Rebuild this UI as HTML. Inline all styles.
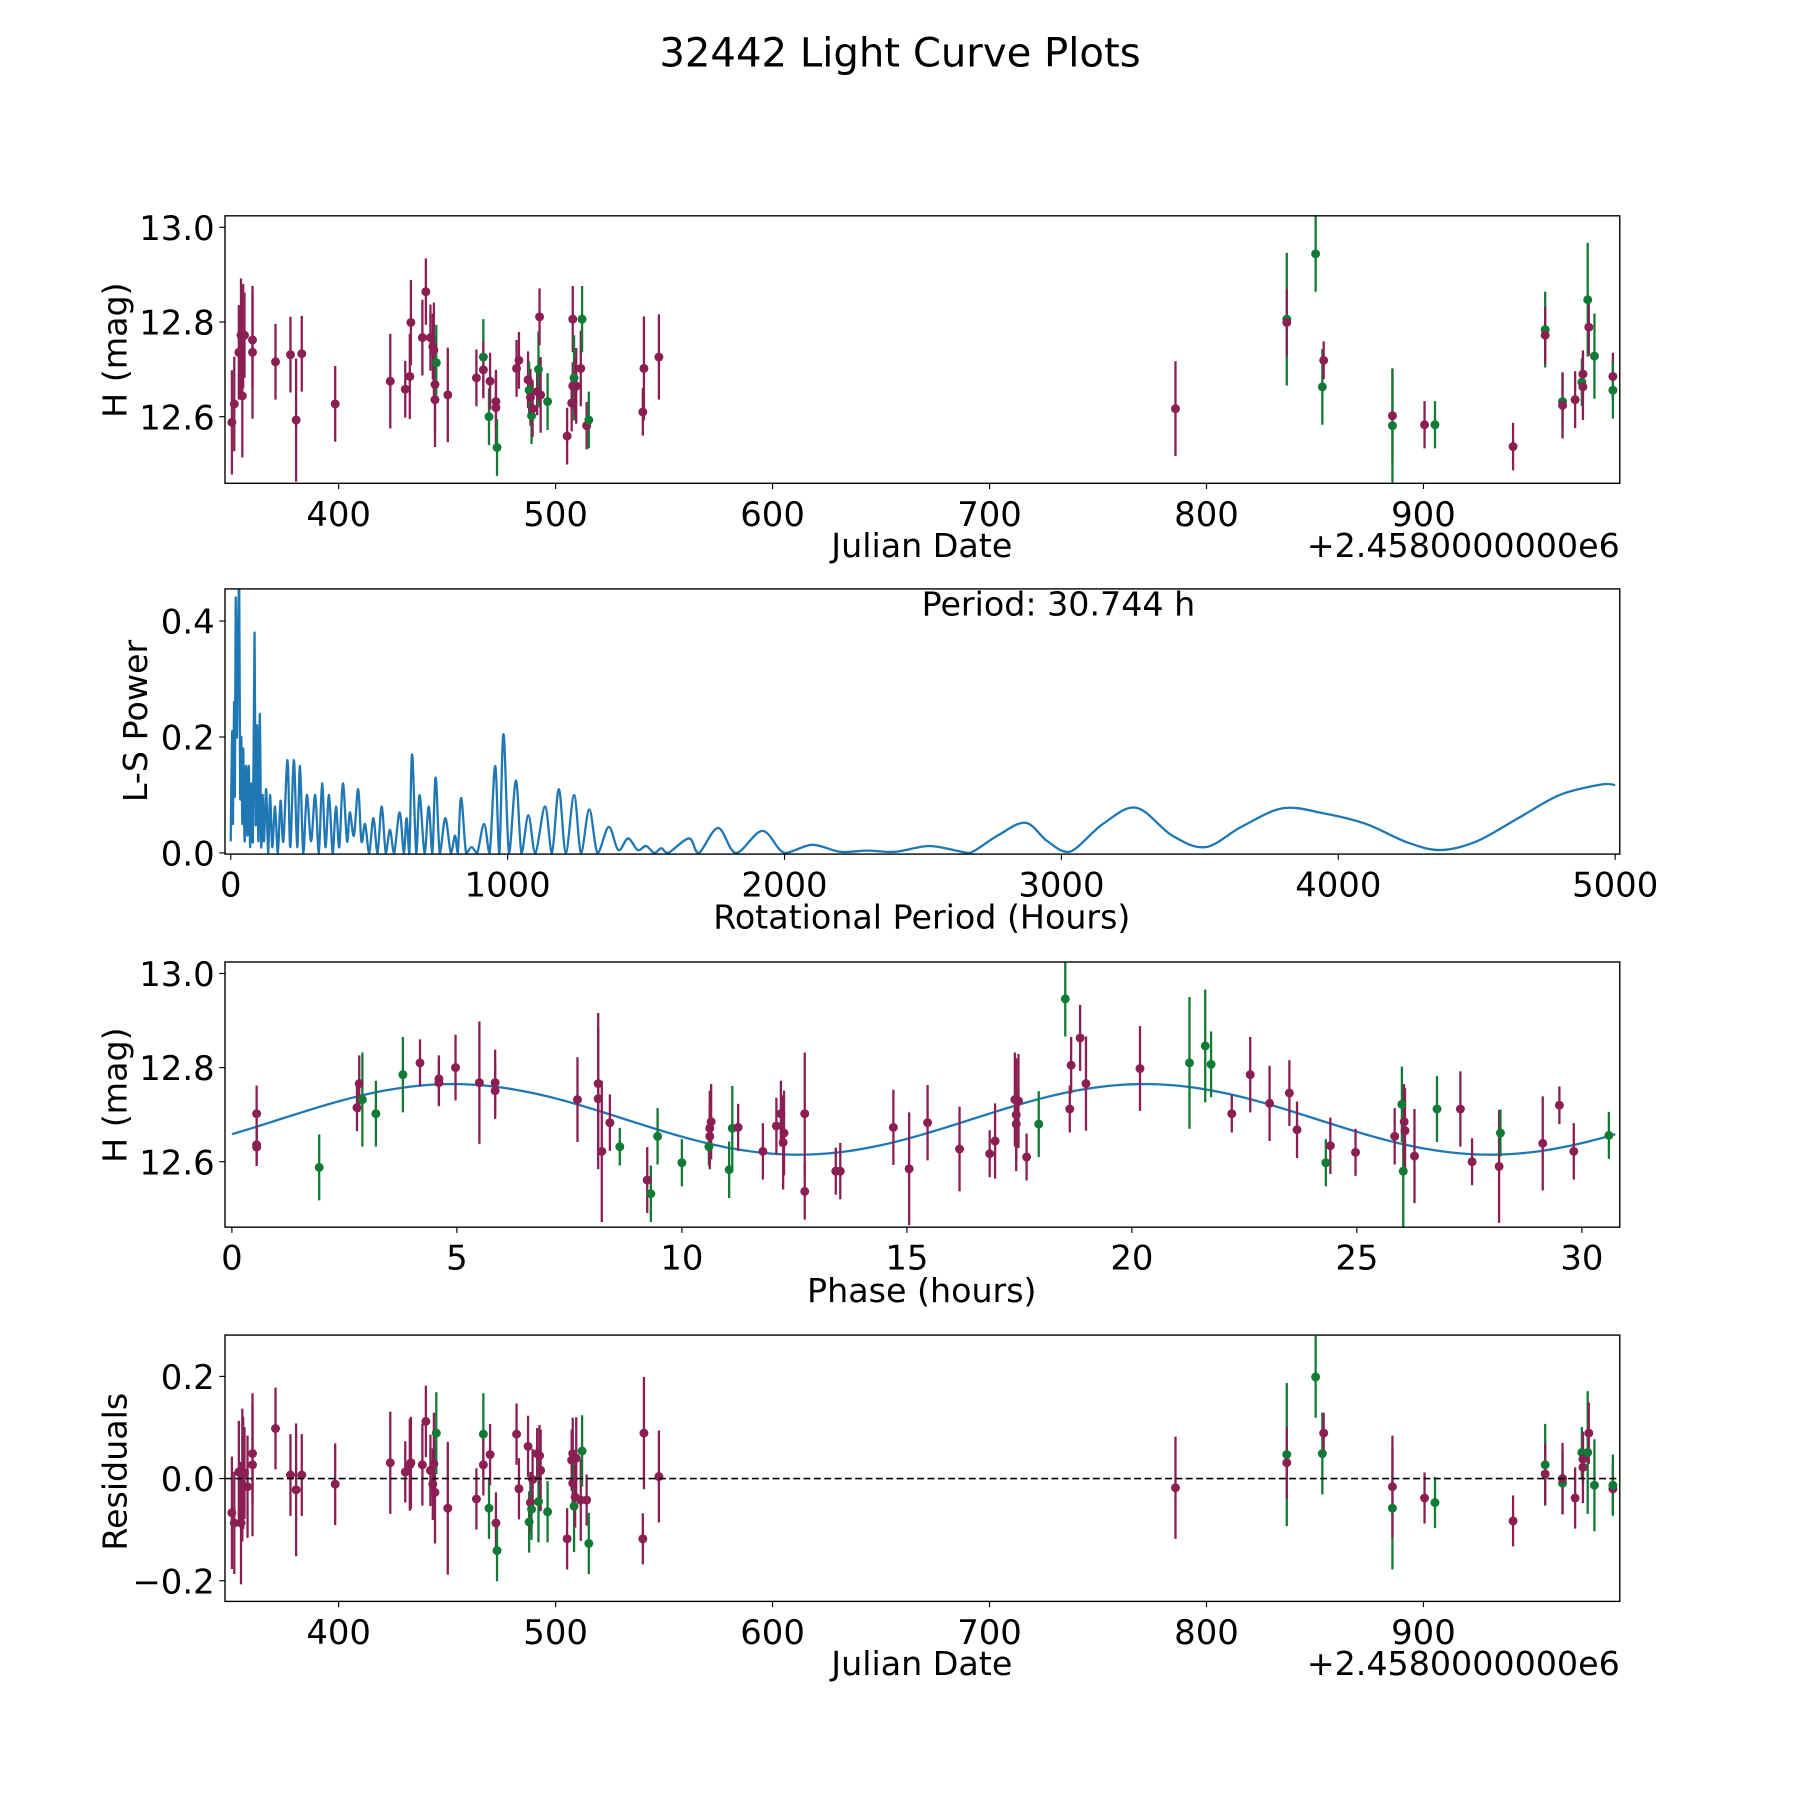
<!DOCTYPE html>
<html><head><meta charset="utf-8"><title>32442 Light Curve Plots</title>
<style>html,body{margin:0;padding:0;background:#fff}svg{display:block}text{font-family:"DejaVu Sans","Liberation Sans",sans-serif;fill:#000}</style>
</head><body>
<svg id="fig" xmlns="http://www.w3.org/2000/svg" width="1800" height="1800" viewBox="0 0 1568 1568">
<rect x="0" y="0" width="1568" height="1568" fill="#fff"/>
<text x="784" y="58" font-size="35" text-anchor="middle">32442 Light Curve Plots</text>
<g id="p1"></g>
<g id="p2"></g>
<g id="p3"></g>
<g id="p4"></g>
</svg>
<script>
// ---- Panel 1: light curve data ----
const lcJd = [350.8,351.9,354,355,355.6,356,356.6,360.3,360.3,370.9,377.8,380.4,383,398.4,423.8,430.7,432.8,433.3,438.6,440.2,442.3,443.4,443.9,444.4,444.4,445,450.3,463.5,466.7,466.7,469.3,469.8,472.5,472.5,473,482,483.1,487.3,487.8,488.4,488.9,489.4,491.5,492.1,492.6,493.1,496.3,505.3,507.4,507.9,507.9,508.5,509,509.5,511.6,512.2,514.3,515.3,540.2,540.7,547.6,785.7,837,837,850.3,853.4,854,885.7,885.7,900.5,905.3,941.3,956.1,956.1,964.1,964.1,969.9,973,973.5,973.5,975.7,976.2,978.8,987.3,987.3];
const lcMag = [12.588,12.627,12.736,12.772,12.644,12.77,12.772,12.762,12.736,12.716,12.731,12.593,12.733,12.627,12.675,12.658,12.685,12.799,12.767,12.864,12.767,12.748,12.741,12.668,12.636,12.714,12.646,12.682,12.726,12.699,12.6,12.675,12.632,12.619,12.535,12.702,12.719,12.678,12.656,12.641,12.602,12.617,12.653,12.7,12.811,12.646,12.632,12.559,12.629,12.665,12.806,12.682,12.663,12.665,12.702,12.806,12.581,12.593,12.61,12.702,12.726,12.617,12.806,12.799,12.944,12.663,12.719,12.602,12.581,12.583,12.583,12.537,12.784,12.772,12.632,12.624,12.636,12.673,12.69,12.663,12.847,12.789,12.728,12.685,12.656];
const lcErr = [0.11,0.1,0.1,0.12,0.13,0.11,0.09,0.1,0.14,0.08,0.08,0.13,0.08,0.08,0.1,0.06,0.09,0.09,0.08,0.07,0.07,0.07,0.1,0.1,0.1,0.08,0.1,0.06,0.08,0.06,0.06,0.06,0.06,0.08,0.06,0.06,0.06,0.06,0.06,0.06,0.06,0.06,0.05,0.08,0.06,0.08,0.06,0.06,0.06,0.05,0.07,0.09,0.06,0.08,0.08,0.07,0.05,0.06,0.05,0.11,0.09,0.1,0.14,0.07,0.08,0.08,0.04,0.1,0.12,0.05,0.05,0.05,0.08,0.06,0.06,0.07,0.06,0.05,0.05,0.07,0.12,0.06,0.09,0.05,0.06];
const lcBand = [0,0,0,0,0,0,0,0,0,0,0,0,0,0,0,0,0,0,0,0,0,0,0,0,0,1,0,0,1,0,1,0,0,0,1,0,0,0,1,0,1,0,0,1,0,0,1,0,0,0,0,1,0,0,0,1,0,1,0,0,0,0,1,0,1,1,0,0,1,0,1,0,1,0,1,0,0,1,0,0,1,0,1,0,1];
const jdTicks = [400,500,600,700,800,900];

// ---- Panel 2: periodogram ----
const lsPeriod = [0,5,8,12,15,18,22,26,30.7,34,38,42,45,50,55,60,65,70,75,80,86,90,95,100,105,110,115,120,128,135,142,150,160,170,180,190,205,215,228,240,250,262,275,290,305,318,330,342,355,368,380,392,405,420,430,445,460,472,485,500,515,530,545,560,575,590,610,625,635,645,655,670,682,700,715,728,740,755,775,795,810,820,832,850,870,890,915,935,955,970,985,1005,1030,1050,1075,1100,1135,1160,1185,1210,1240,1265,1295,1325,1365,1400,1435,1470,1500,1530,1555,1580,1655,1690,1760,1825,1920,2000,2100,2200,2300,2400,2520,2620,2670,2770,2870,2950,3030,3150,3270,3400,3520,3650,3800,3950,4100,4250,4370,4500,4650,4800,4950,5000];
const lsPower = [0.02,0.21,0.05,0.26,0.1,0.44,0.2,0.36,0.46,0.1,0.2,0.05,0.18,0.02,0.15,0.03,0.15,0.01,0.12,0.02,0.38,0.05,0.22,0.02,0.24,0.01,0.1,0.02,0.11,0.0,0.1,0.01,0.08,0.0,0.09,0.02,0.16,0.01,0.16,0.01,0.15,0.0,0.1,0.02,0.1,0.0,0.12,0.01,0.1,0.0,0.08,0.01,0.12,0.02,0.07,0.03,0.11,0.02,0.05,0.0,0.06,0.0,0.08,0.0,0.04,0.0,0.07,0.0,0.06,0.0,0.17,0.0,0.1,0.0,0.08,0.0,0.13,0.0,0.06,0.0,0.03,0.0,0.095,0.0,0.01,0.0,0.05,0.0,0.15,0.0,0.205,0.0,0.125,0.0,0.065,0.0,0.08,0.0,0.11,0.0,0.1,0.0,0.075,0.0,0.045,0.005,0.025,0.005,0.012,0.0,0.008,0.0,0.025,0.0,0.043,0.0,0.038,0.0,0.014,0.002,0.004,0.002,0.012,0.004,0.0,0.03,0.052,0.02,0.002,0.05,0.078,0.03,0.01,0.045,0.077,0.068,0.05,0.018,0.005,0.02,0.06,0.1,0.118,0.117];
const periodTicks = [0,1000,2000,3000,4000,5000];
const powerTicks = [0.0,0.2,0.4];
const bestPeriodLabel = "Period: 30.744 h";

// ---- Panel 3: phase-folded ----
const phPhase = [0.55,0.55,0.55,1.94,2.78,2.83,2.9,3.2,3.8,4.18,4.6,4.6,4.97,5.5,5.85,5.85,7.68,8.14,8.14,8.22,8.4,8.62,9.23,9.31,9.46,10.0,10.6,10.62,10.62,10.65,11.05,11.12,11.25,11.8,12.1,12.2,12.25,12.27,12.73,12.73,13.42,13.52,14.7,15.05,15.46,16.17,16.84,16.96,17.4,17.48,17.43,17.43,17.66,17.93,18.52,18.62,18.65,18.85,18.98,20.18,21.28,21.63,21.76,22.22,22.63,23.06,23.5,23.67,24.31,24.41,24.97,25.84,26.0,26.03,26.05,26.07,26.28,26.78,27.3,27.56,28.16,28.19,29.13,29.5,29.82,30.6];
const phMag = [12.636,12.702,12.631,12.588,12.715,12.766,12.732,12.702,12.785,12.81,12.776,12.768,12.8,12.768,12.768,12.751,12.732,12.766,12.734,12.622,12.683,12.632,12.561,12.532,12.654,12.598,12.632,12.654,12.671,12.685,12.583,12.671,12.673,12.622,12.676,12.702,12.641,12.661,12.537,12.702,12.58,12.58,12.673,12.585,12.683,12.627,12.617,12.644,12.732,12.729,12.68,12.7,12.61,12.68,12.946,12.712,12.805,12.863,12.766,12.798,12.81,12.846,12.807,12.702,12.785,12.724,12.746,12.668,12.598,12.634,12.62,12.654,12.722,12.58,12.685,12.666,12.612,12.712,12.712,12.6,12.59,12.661,12.639,12.72,12.622,12.656];
const phErr = [0.04,0.06,0.04,0.07,0.05,0.06,0.1,0.07,0.08,0.05,0.05,0.05,0.07,0.13,0.07,0.06,0.09,0.15,0.15,0.15,0.06,0.04,0.07,0.06,0.06,0.05,0.04,0.07,0.08,0.08,0.06,0.09,0.05,0.06,0.06,0.07,0.1,0.09,0.06,0.13,0.05,0.06,0.08,0.12,0.08,0.09,0.05,0.08,0.1,0.1,0.08,0.12,0.05,0.07,0.08,0.05,0.06,0.07,0.1,0.09,0.14,0.12,0.07,0.04,0.08,0.08,0.07,0.06,0.05,0.06,0.05,0.06,0.08,0.13,0.08,0.09,0.1,0.07,0.08,0.05,0.12,0.05,0.1,0.04,0.06,0.05];
const phBand = [0,0,0,1,0,0,1,1,1,0,0,0,0,0,0,0,0,0,0,0,0,1,0,1,1,1,1,0,0,0,1,1,0,0,0,0,0,0,0,0,0,0,0,0,0,0,0,0,0,0,0,0,0,1,1,0,0,0,0,0,1,1,1,0,0,0,0,0,1,0,0,0,1,1,0,0,0,1,0,0,0,1,0,0,0,1];
const phaseTicks = [0,5,10,15,20,25,30];
const magTicks = [12.6,12.8,13.0];
const fitMean = [12.69];
const fitAmp = [0.075];
const fitPeriodHours = [15.372];
const fitPhase0 = [1.06];

// ---- Panel 4: residuals ----
const resJd = [350.8,351.9,354,355,355.6,356,356.6,358,360.3,360.3,370.9,377.8,380.4,383,398.4,423.8,430.7,432.8,433.3,438.6,440.2,442.3,443.4,443.9,444.4,445,450.3,463.5,466.7,466.7,469.3,469.8,472.5,473,482,483.1,487.3,487.8,488.4,488.9,489.4,491.5,492.1,492.6,493.1,496.3,505.3,507.4,507.9,507.9,508.5,509,509.5,511.6,512.2,514.3,515.3,540.2,540.7,547.6,785.7,837,837,850.3,853.4,854,885.7,885.7,900.5,905.3,941.3,956.1,956.1,964.1,964.1,969.9,973,973.5,973.5,975.7,976.2,978.8,987.3,987.3];
const resVal = [-0.067,-0.087,0.013,-0.087,0.007,0.011,0.011,-0.016,0.049,0.027,0.098,0.007,-0.022,0.007,-0.011,0.031,0.013,0.027,0.031,0.027,0.112,0.016,-0.011,0.029,-0.027,0.089,-0.058,-0.04,0.087,0.027,-0.058,0.047,-0.087,-0.141,0.087,-0.02,0.063,-0.085,-0.047,-0.06,-0.002,0.049,-0.045,0.045,0.016,-0.065,-0.118,0.036,-0.009,0.049,-0.054,-0.036,0.04,-0.042,0.054,-0.042,-0.127,-0.118,0.089,0.004,-0.018,0.047,0.031,0.199,0.049,0.089,-0.058,-0.016,-0.038,-0.047,-0.083,0.027,0.009,-0.009,0.0,-0.038,0.051,0.038,0.022,0.051,0.089,-0.013,-0.02,-0.013];
const resErr = [0.11,0.1,0.1,0.12,0.13,0.11,0.09,0.1,0.1,0.14,0.08,0.08,0.13,0.08,0.08,0.1,0.06,0.09,0.09,0.08,0.07,0.07,0.07,0.1,0.1,0.08,0.13,0.06,0.08,0.06,0.06,0.06,0.06,0.06,0.06,0.06,0.06,0.06,0.06,0.06,0.06,0.05,0.08,0.06,0.08,0.06,0.06,0.06,0.05,0.07,0.09,0.06,0.08,0.08,0.07,0.05,0.06,0.05,0.11,0.09,0.1,0.14,0.07,0.08,0.08,0.04,0.12,0.1,0.05,0.05,0.05,0.08,0.06,0.06,0.07,0.06,0.05,0.05,0.07,0.12,0.06,0.09,0.05,0.06];
const resBand = [0,0,0,0,0,0,0,0,0,0,0,0,0,0,0,0,0,0,0,0,0,0,0,0,0,1,0,0,1,0,1,0,0,1,0,0,0,1,0,1,0,0,1,0,0,1,0,0,0,0,1,0,0,0,1,0,1,0,0,0,0,1,0,1,1,0,1,0,0,1,0,1,0,1,0,0,1,0,0,1,0,1,0,1];
const resTicks = [-0.2,0.0,0.2];

const NS = "http://www.w3.org/2000/svg";
const MAROON = "#8b1e52", GREEN = "#117a35", BLUE = "#1f77b4";
const TICK_FS = 29.5, LABEL_FS = 29;
function mk(tag, attrs, parent) {
  const e = document.createElementNS(NS, tag);
  for (const k in attrs) e.setAttribute(k, attrs[k]);
  parent.appendChild(e);
  return e;
}
function lin(d0, d1, r0, r1) { return v => r0 + (v - d0) * (r1 - r0) / (d1 - d0); }
function fmt(v, dec) { const s = v.toFixed(dec); return v < 0 ? "\u2212" + s.slice(1) : s; }

const L = 196, R = 1411;
function frame(g, top, bot) {
  const r = mk("rect", {x: L, y: top, width: R - L, height: bot - top, fill: "none", stroke: "#000", "stroke-width": 1.2}, g);
  
  
}
function xTicks(g, ticks, sx, bot, dec) {
  ticks.forEach(t => {
    const x = sx(t);
    const l = mk("line", {x1: x, x2: x, y1: bot, y2: bot + 5, stroke: "#000", "stroke-width": 1}, g);
    
    
    const tx = mk("text", {x: x, y: bot + 37, "font-size": TICK_FS, "text-anchor": "middle"}, g);
    tx.textContent = fmt(t, dec);
    
    
  });
}
function yTicks(g, ticks, sy, dec) {
  ticks.forEach(t => {
    const y = sy(t);
    const l = mk("line", {x1: L - 5, x2: L, y1: y, y2: y, stroke: "#000", "stroke-width": 1}, g);
    
    
    const tx = mk("text", {x: L - 9, y: y + 11, "font-size": TICK_FS, "text-anchor": "end"}, g);
    tx.textContent = fmt(t, dec);
    
    
  });
}
function label(g, txt, x, y, rot, name) {
  const t = mk("text", {x: x, y: y, "font-size": LABEL_FS, "text-anchor": "middle"}, g);
  if (rot) t.setAttribute("transform", "rotate(-90 " + x + " " + y + ")");
  t.textContent = txt;
  
  
}
function clipFor(g, id, top, bot) {
  const cp = mk("clipPath", {id: id}, g);
  mk("rect", {x: L, y: top, width: R - L, height: bot - top}, cp);
}
function errPoints(g, xs, ys, es, bands, sx, sy, clip) {
  const pg = mk("g", {"clip-path": "url(#" + clip + ")"}, g);
  xs.forEach((xv, i) => {
    const c = bands[i] ? GREEN : MAROON;
    const x = sx(xv);
    const eb = mk("line", {x1: x, x2: x, y1: sy(ys[i] - es[i]), y2: sy(ys[i] + es[i]), stroke: c, "stroke-width": 2}, pg);
    
    
  });
  xs.forEach((xv, i) => {
    const c = bands[i] ? GREEN : MAROON;
    const p = mk("circle", {cx: sx(xv), cy: sy(ys[i]), r: 3.9, fill: c}, pg);
    
    
  });
}

// Panel 1
(function () {
  const g = document.getElementById("p1"), top = 188, bot = 421;
  const sx = lin(400, 900, 295, 1240), sy = lin(12.6, 13.0, 363, 198);
  clipFor(g, "c1", top, bot);
  errPoints(g, lcJd, lcMag, lcErr, lcBand, sx, sy, "c1");
  frame(g, top, bot);
  xTicks(g, jdTicks, sx, bot, 0);
  yTicks(g, magTicks, sy, 1);
  label(g, "Julian Date", 803, 485, false, "x-axis-title");
  label(g, "H (mag)", 110, 305, true, "y-axis-title");
  const off = mk("text", {x: R, y: 485, "font-size": LABEL_FS, "text-anchor": "end"}, g);
  off.textContent = "+2.4580000000e6";
  
  
})();

// Panel 2
(function () {
  const g = document.getElementById("p2"), top = 513, bot = 744;
  const sx = lin(0, 5000, 201, 1407), sy = lin(0, 0.4, 743, 541);
  clipFor(g, "c2", top, bot);
  const pts = lsPeriod.map((p, i) => [sx(p), sy(lsPower[i])]);
  let d = "M" + pts[0][0] + "," + pts[0][1];
  for (let i = 0; i < pts.length - 1; i++) {
    const p0 = pts[Math.max(0, i - 1)], p1 = pts[i], p2 = pts[i + 1], p3 = pts[Math.min(pts.length - 1, i + 2)];
    const t = 1 / 6;
    const c1x = p1[0] + (p2[0] - p0[0]) * t, c1y = Math.min(sy(0), p1[1] + (p2[1] - p0[1]) * t);
    const c2x = p2[0] - (p3[0] - p1[0]) * t, c2y = Math.min(sy(0), p2[1] - (p3[1] - p1[1]) * t);
    d += " C" + c1x + "," + c1y + " " + c2x + "," + c2y + " " + p2[0] + "," + p2[1];
  }
  const line = mk("path", {d: d, fill: "none", stroke: BLUE, "stroke-width": 2, "clip-path": "url(#c2)"}, g);
  
  
  frame(g, top, bot);
  xTicks(g, periodTicks, sx, bot, 0);
  yTicks(g, powerTicks, sy, 1);
  label(g, "Rotational Period (Hours)", 803, 809, false, "x-axis-title");
  label(g, "L-S Power", 128, 628, true, "y-axis-title");
  const pt = mk("text", {x: 922, y: 536, "font-size": LABEL_FS, "text-anchor": "middle"}, g);
  pt.textContent = bestPeriodLabel;
  
  
})();

// Panel 3
(function () {
  const g = document.getElementById("p3"), top = 838, bot = 1069;
  const sx = lin(0, 30, 202, 1378), sy = lin(12.6, 13.0, 1012, 848);
  clipFor(g, "c3", top, bot);
  let d = "";
  for (let i = 0; i <= 200; i++) {
    const ph = 30.744 * i / 200;
    const m = fitMean[0] + fitAmp[0] * Math.sin(2 * Math.PI * (ph - fitPhase0[0]) / fitPeriodHours[0]);
    d += (i ? " L" : "M") + sx(ph) + "," + sy(m);
  }
  const fit = mk("path", {d: d, fill: "none", stroke: BLUE, "stroke-width": 2, "clip-path": "url(#c3)"}, g);
  
  
  errPoints(g, phPhase, phMag, phErr, phBand, sx, sy, "c3");
  frame(g, top, bot);
  xTicks(g, phaseTicks, sx, bot, 0);
  yTicks(g, magTicks, sy, 1);
  label(g, "Phase (hours)", 803, 1134, false, "x-axis-title");
  label(g, "H (mag)", 110, 954, true, "y-axis-title");
})();

// Panel 4
(function () {
  const g = document.getElementById("p4"), top = 1163, bot = 1395;
  const sx = lin(400, 900, 295, 1240), sy = lin(0, 0.2, 1288, 1199);
  clipFor(g, "c4", top, bot);
  errPoints(g, resJd, resVal, resErr, resBand, sx, sy, "c4");
  const z = mk("line", {x1: L, x2: R, y1: sy(0), y2: sy(0), stroke: "#000", "stroke-width": 1.5, "stroke-dasharray": "6,3"}, g);
  
  
  frame(g, top, bot);
  xTicks(g, jdTicks, sx, bot, 0);
  yTicks(g, resTicks, sy, 1);
  label(g, "Julian Date", 803, 1459, false, "x-axis-title");
  label(g, "Residuals", 110, 1282, true, "y-axis-title");
  const off = mk("text", {x: R, y: 1459, "font-size": LABEL_FS, "text-anchor": "end"}, g);
  off.textContent = "+2.4580000000e6";
  
  
})();
</script>
</body></html>
